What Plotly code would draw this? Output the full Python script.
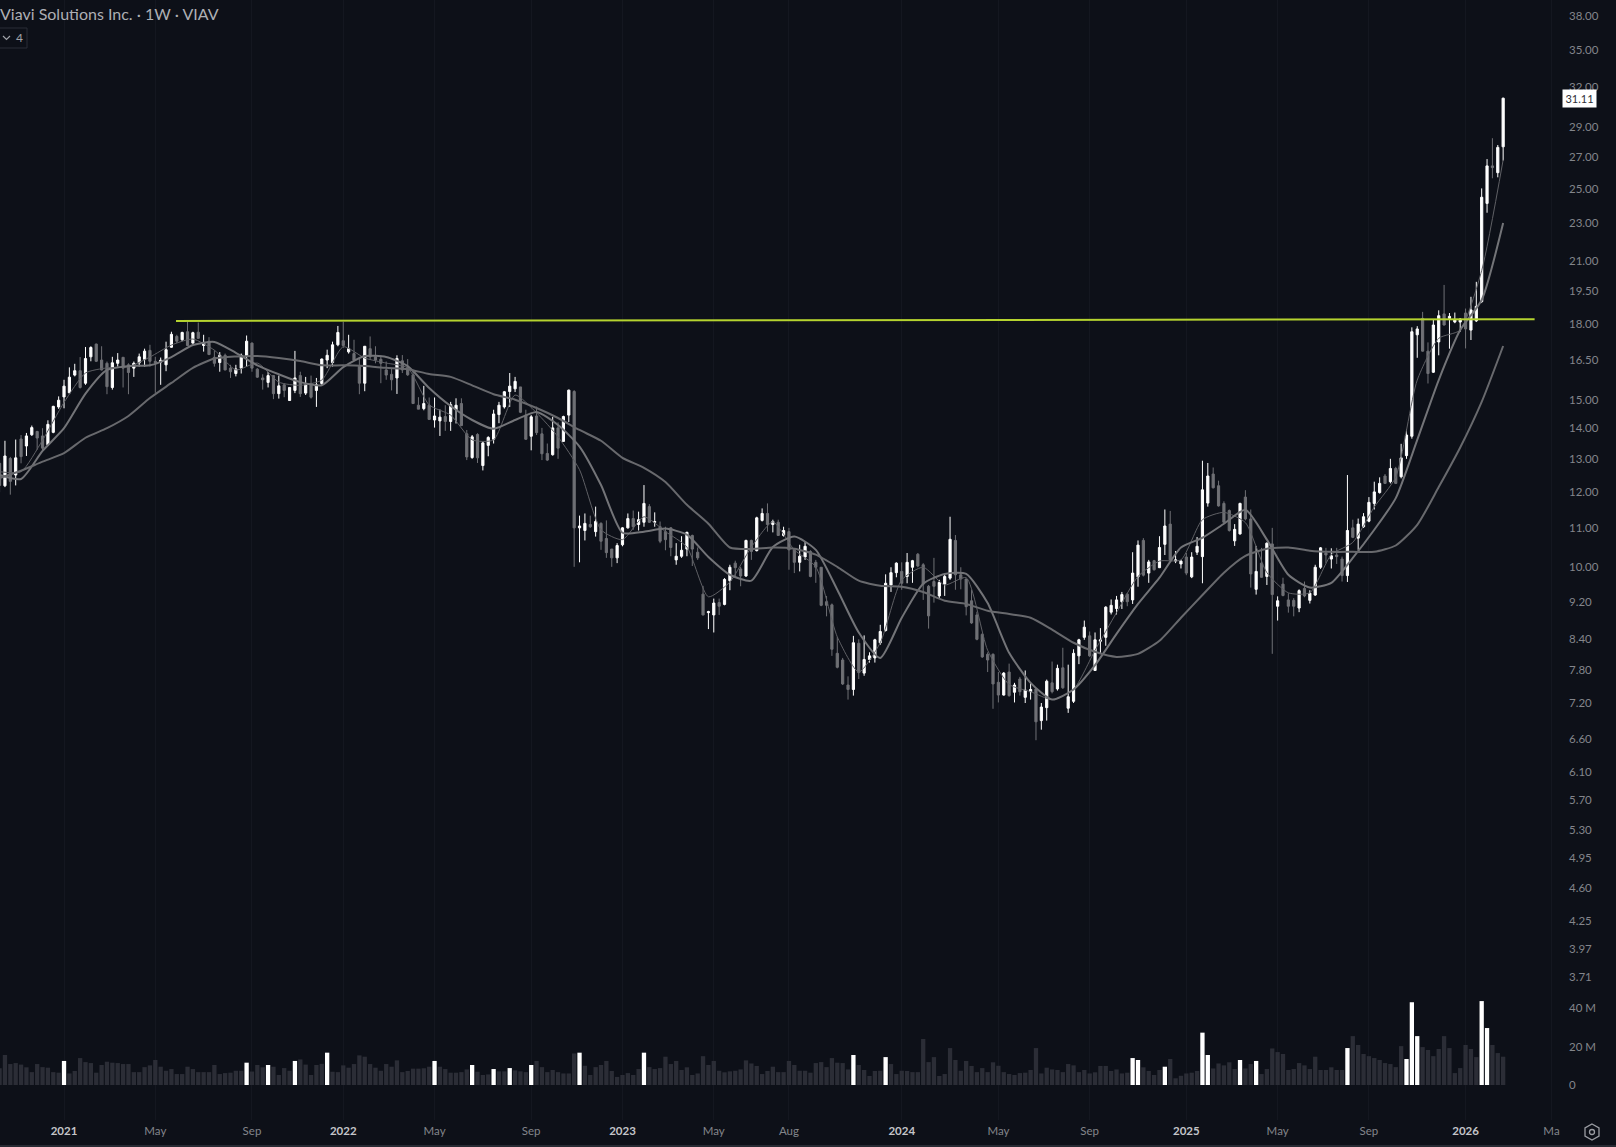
import math
import pandas as pd
import plotly.graph_objects as go

# weekly bars, VIAV
dates = pd.date_range("2020-10-12", periods=281, freq="7D")

opens = [
    12.86,12.18,13.01,12.5,13.64,13.41,13.78,13.89,13.74,13.45,
    13.86,14.74,15.1,15.25,15.92,16.09,15.61,16.64,17.16,16.51,
    16.38,15.45,16.38,16.62,16.32,16.19,16.4,16.54,16.9,16.46,
    16.43,16.32,17.03,17.48,17.34,17.68,17.2,17.66,17.1,17.28,
    16.62,16.41,16.7,16.19,15.98,16.19,16.66,17.2,16.15,15.81,
    15.64,15.9,15.22,15.55,14.97,15.34,15.9,15.24,15.6,15.34,
    15.6,16.51,16.41,17.13,17.3,16.84,16.77,16.25,15.61,16.97,
    16.64,16.54,16.12,15.95,15.81,16.48,16.22,15.93,14.8,14.68,
    14.8,14.28,14.25,14.4,14.23,14.64,14.86,13.81,13.04,13.79,
    12.79,13.43,13.63,14.47,14.74,15.3,15.4,15.47,14.45,13.73,
    14.42,13.81,13.17,13.13,14.01,13.56,14.45,15.3,11.0,10.93,
    11.09,10.9,11.12,10.72,10.45,10.23,10.56,11.0,11.25,11.09,
    11.15,11.58,11.15,11.03,10.9,11.0,10.18,10.27,10.45,10.8,
    10.37,9.37,8.96,8.91,9.18,9.14,9.68,10.1,9.96,9.79,
    10.67,10.41,11.2,11.39,11.09,11.15,10.8,10.9,10.43,10.12,
    10.25,10.39,10.12,10.0,9.2,9.13,8.12,7.99,7.52,7.44,
    8.32,7.74,8.0,8.03,8.33,8.58,9.58,9.87,9.9,9.78,
    10.0,10.32,10.06,9.55,9.66,9.33,9.6,9.74,10.67,9.82,
    9.72,9.22,8.91,8.5,8.1,8.1,7.57,7.34,7.76,7.39,
    7.63,7.3,7.4,7.45,6.9,7.12,7.56,7.45,7.84,7.11,
    7.23,8.07,8.44,8.47,7.79,8.36,8.44,8.97,9.05,9.2,
    9.37,9.24,9.77,10.67,9.86,10.16,9.99,10.57,11.1,10.15,
    10.08,10.25,9.77,10.37,10.26,11.68,12.53,12.18,11.67,11.47,
    10.66,10.84,11.85,11.24,9.48,10.1,9.78,10.58,9.1,9.6,
    9.24,9.23,9.06,9.5,9.23,9.35,10.0,10.35,10.2,10.3,
    10.2,9.8,11.0,10.73,11.03,11.18,11.67,11.98,12.47,12.3,
    12.7,12.45,13.1,13.73,17.55,18.26,16.87,16.03,17.25,18.46,
    18.26,18.1,18.1,18.5,17.75,18.15,19.02,24.12,26.41,25.98,
    27.66,
]
highs = [
    12.96,13.58,13.06,13.62,13.77,13.84,14.09,13.91,14.0,14.27,
    14.78,15.12,15.74,16.22,16.36,16.63,17.04,17.07,17.18,17.07,
    16.45,16.64,16.79,16.62,16.38,16.45,16.77,16.97,17.13,16.64,
    16.61,17.26,17.68,17.55,17.68,18.18,17.68,18.08,17.55,17.45,
    16.9,16.83,16.77,16.32,16.32,16.77,17.52,17.23,16.19,15.95,
    16.04,15.9,15.9,15.61,15.45,16.88,16.05,15.85,15.9,15.81,
    16.57,16.93,17.26,17.93,18.11,17.55,17.34,16.57,17.07,17.48,
    17.07,16.7,16.45,16.19,16.7,16.71,16.55,16.12,15.09,15.51,
    15.08,15.08,14.65,14.8,14.92,15.05,15.05,13.94,13.77,13.83,
    13.56,13.73,14.64,14.92,15.32,16.0,15.85,15.47,14.64,14.45,
    14.75,14.01,13.49,14.39,14.2,14.43,15.37,15.35,11.33,11.39,
    11.33,11.58,11.15,11.2,10.45,10.6,11.02,11.39,11.47,11.44,
    12.2,11.65,11.42,11.17,11.03,11.02,10.6,10.78,10.9,10.82,
    10.49,9.56,9.0,9.27,9.27,9.74,10.06,10.16,10.01,10.69,
    10.69,11.3,11.53,11.67,11.22,11.22,11.03,11.0,10.47,10.56,
    10.65,10.42,10.18,10.0,9.33,9.16,8.45,8.03,7.68,8.47,
    8.4,8.48,8.14,8.41,8.7,9.83,10.0,10.12,10.12,10.35,
    10.18,10.35,10.1,9.58,10.23,9.7,9.82,11.3,10.81,10.0,
    9.72,9.47,8.98,8.53,8.14,8.12,7.76,7.76,7.92,7.56,
    7.67,7.79,7.57,7.47,7.2,7.62,7.96,7.9,8.23,7.9,
    8.2,8.41,8.79,8.56,8.54,8.63,9.1,9.25,9.33,9.42,
    9.39,10.37,10.67,10.73,10.18,10.18,10.78,11.5,11.46,10.4,
    10.18,10.35,10.37,10.76,12.94,12.87,12.73,12.33,11.73,11.5,
    11.1,11.69,12.05,11.5,10.53,10.48,10.62,11.0,9.32,9.75,
    9.39,9.28,9.48,9.66,9.46,10.06,10.5,10.48,10.47,10.48,
    10.26,12.5,11.22,11.25,11.4,11.85,12.3,12.43,12.53,13.0,
    12.75,13.48,13.95,17.87,17.92,18.55,17.23,18.2,18.62,19.8,
    18.5,18.52,18.27,18.7,19.24,19.95,25.01,26.85,28.24,27.78,
    31.15,
]
lows = [
    11.99,12.14,11.92,12.19,12.86,13.09,13.74,13.29,13.23,13.43,
    13.83,14.67,14.69,15.25,15.87,15.41,15.55,16.46,16.43,16.1,
    15.2,15.37,16.25,15.45,15.2,15.85,16.25,16.25,16.25,15.25,
    15.55,16.07,17.01,17.2,17.28,17.08,17.18,17.38,16.85,16.71,
    16.25,16.05,16.1,15.81,15.87,15.98,16.25,16.05,15.81,15.37,
    15.45,15.02,15.04,15.09,14.97,15.24,15.1,15.17,15.04,14.74,
    15.51,16.19,16.25,17.07,17.0,16.77,16.46,15.2,15.31,16.51,
    16.38,15.61,15.74,15.34,15.21,16.0,15.89,14.86,14.66,14.62,
    14.28,14.02,13.74,13.91,13.91,14.16,14.07,12.96,13.0,12.87,
    12.64,13.08,13.49,14.17,14.68,14.74,15.28,14.52,13.61,13.27,
    13.77,12.96,12.93,13.1,13.0,13.56,14.21,10.01,10.12,10.67,
    11.0,10.77,10.43,10.23,10.01,10.1,10.52,10.98,10.95,10.93,
    11.03,11.13,11.03,10.6,10.42,10.27,10.06,10.23,10.27,10.03,
    10.18,8.9,8.61,8.54,8.91,9.12,9.46,9.77,9.55,9.77,
    10.18,10.39,11.17,10.9,10.88,10.79,10.77,9.94,9.86,9.9,
    10.18,9.76,9.63,9.1,8.88,8.07,7.83,7.52,7.26,7.33,
    7.63,7.69,7.94,7.94,8.29,8.56,9.42,9.76,9.47,9.62,
    9.63,10.0,9.24,8.62,9.18,9.28,9.33,9.7,9.47,9.48,
    8.9,8.72,8.38,8.03,7.76,7.1,7.21,7.33,7.31,7.21,
    7.33,7.2,7.26,6.58,6.75,6.9,7.37,7.42,7.45,7.03,
    7.2,7.91,8.39,8.05,7.78,8.12,8.27,8.92,8.92,9.04,
    9.1,9.15,9.54,9.78,9.63,9.92,9.98,10.3,10.16,10.1,
    9.97,9.81,9.74,10.3,9.62,11.58,12.1,11.58,11.13,10.9,
    10.53,10.82,11.2,9.52,9.36,9.75,9.58,8.11,8.79,9.32,
    8.96,8.88,8.97,9.3,9.16,9.33,9.96,10.1,9.97,10.08,
    9.66,9.65,10.73,10.43,11.0,11.15,11.5,11.95,12.24,12.25,
    12.23,12.4,13.0,13.65,16.6,16.85,15.6,16.0,16.7,17.95,
    16.97,18.05,17.68,16.98,17.33,18.1,18.95,23.58,25.63,25.69,
    26.75,
]
closes = [
    12.19,13.09,12.31,13.03,13.07,13.74,14.02,13.67,13.34,14.13,
    14.76,14.98,15.5,15.84,16.09,15.45,16.57,17.02,16.46,16.12,
    15.48,16.4,16.51,16.19,16.02,16.38,16.64,16.87,16.46,16.4,
    16.5,16.93,17.57,17.28,17.65,17.1,17.64,17.4,17.23,16.73,
    16.38,16.7,16.12,16.05,16.16,16.7,17.28,16.19,15.84,15.74,
    15.9,15.22,15.51,15.34,15.45,15.81,15.22,15.55,15.09,15.55,
    16.55,16.7,17.13,17.65,17.1,16.97,16.51,15.61,17.07,16.64,
    16.51,16.38,15.92,15.74,16.57,16.12,15.93,14.86,14.66,14.86,
    14.3,14.42,14.38,14.23,14.82,14.8,14.09,13.06,13.71,13.03,
    13.51,13.69,14.49,14.8,15.29,15.5,15.68,14.55,13.63,14.39,
    13.85,13.16,12.96,14.01,13.34,14.4,15.35,11.0,11.05,11.12,
    11.03,11.17,10.65,10.36,10.23,10.54,11.0,11.25,11.03,11.22,
    11.67,11.15,11.17,10.65,10.69,10.49,10.27,10.42,10.88,10.45,
    10.23,8.91,8.98,9.17,9.1,9.71,10.0,9.99,9.79,10.67,
    10.39,11.27,11.39,11.09,11.17,10.8,10.93,10.43,10.12,10.27,
    10.52,9.78,10.0,9.12,9.12,8.2,7.85,7.54,7.44,8.33,
    7.75,8.0,8.07,8.39,8.56,9.62,9.87,10.1,9.62,10.12,
    10.16,10.03,9.6,8.89,9.55,9.64,9.78,10.7,9.82,9.72,
    9.09,8.74,8.4,8.05,7.99,7.54,7.34,7.74,7.33,7.52,
    7.4,7.43,7.44,6.88,7.13,7.59,7.4,7.83,7.47,7.31,
    8.12,8.39,8.65,8.07,8.39,8.39,9.08,9.12,9.24,9.36,
    9.2,9.86,10.55,9.81,10.13,9.94,10.49,11.05,10.18,10.18,
    10.15,9.86,10.25,10.52,12.06,12.47,12.12,11.6,11.15,10.93,
    10.96,11.67,11.24,9.84,9.9,9.76,10.6,9.36,9.22,9.34,
    9.1,9.1,9.45,9.33,9.39,10.0,10.48,10.3,10.28,10.26,
    9.8,10.93,10.75,11.1,11.3,11.7,12.0,12.25,12.25,12.7,
    12.25,13.03,13.77,17.68,17.8,16.87,15.98,17.97,18.38,17.97,
    18.35,18.2,18.23,17.8,18.64,18.8,24.48,26.41,26.3,27.62,
    31.11,
]
# volume in millions of shares
volume = [
    8.7,15.6,10.9,11.4,10.6,9.2,6.7,10.9,9.3,9.0,6.7,6.4,
    12.5,6,7.3,14,11.9,11.4,6.4,10.4,12.1,11.6,
    11.4,10.9,10.9,6.7,6.7,9.3,10.2,13,9.5,7.4,
    8.3,5.7,5.7,9.5,8.3,6.7,6.7,6.7,10.4,5.7,
    6.2,6.4,7.4,7.4,11.6,7,10.4,9.2,10.4,9.5,
    5.2,8.8,7.4,12.5,13.3,10.6,5.2,10.4,11,16.8,
    6.9,6.7,10.2,9,10.9,15.4,14.7,10.9,9,7.4,
    10.9,9.5,12.8,6.7,7.3,8.5,8.5,8.7,9.5,12.5,
    9.5,8.3,6.4,6.4,6.7,8.1,10.4,6.9,5.2,5.5,
    8.3,7.1,7.1,8.8,7.6,7.1,6.7,10.4,12.5,9.3,
    6.7,7.8,6.7,6,6,16.4,16.8,10,5.2,9.3,
    10.4,12.5,7.3,4.2,5.2,6.2,5.2,8.3,16.8,9.3,
    8.3,8.8,14.7,10.9,12.5,7.8,9.2,5.2,6,15,
    10.4,12.5,7.4,6.6,7.1,7.4,8.1,12.8,11.2,9.9,
    5.7,7.3,9.5,6.7,6.7,12.5,10.4,7.4,7.4,6.4,
    11.4,11.9,9.3,14,11.6,11.4,8.1,15.6,10.4,7.8,
    4.7,7.3,7.4,14.5,10.9,5.7,7.4,7.3,6.7,6.7,
    23.9,11.9,14.5,4.7,5.7,19.2,13,7.4,12.5,9.9,
    6.7,8.8,6.7,11.8,10,6.7,5.7,5.2,6.2,6.4,
    7.8,19.2,6,9,8.1,7.8,6.7,10.9,10.2,6.7,
    7.8,6,6.6,9.9,9.9,7.3,8.1,6,6.4,14,
    13,9.2,7.3,5.2,7.8,9.5,13.5,3.5,4.8,6,
    6.4,7.3,27.2,15.6,8.6,11.2,10.2,11.8,8.3,13,
    8.6,10.9,12.5,5.7,8.3,19,17.1,16.1,7.8,8.3,
    11.4,10.2,8.3,14.7,7.8,7.8,9.2,7.8,7.8,19.2,
    25.4,20.8,16.1,15,14,13,11.4,10.9,9.3,20.2,
    13.5,43,25.4,19.7,18.2,15,18.7,25.4,19.2,6.2,
    8.8,20.8,18.7,14.5,43.6,29.6,20.8,16.6,14.7,
]
# bars whose volume column is highlighted white
white_bars = [12,46,50,55,61,81,88,92,95,99,108,120,159,165,211,212,217,224,225,231,234,251,262,263,264,276,277]

# moving averages, read every 4th bar
ma_fast = [
    12.6,12.6,13.6,14.9,16.0,16.2,16.24,16.63,17.12,17.37,16.91,16.12,16.39,15.65,15.53,15.73,
    17.05,16.59,16.39,16.2,14.81,14.45,13.61,13.61,15.17,14.53,13.71,12.66,10.95,10.69,11.3,10.9,
    10.5,9.31,9.65,10.5,11.16,10.43,10.01,8.45,7.76,8.33,9.7,10.0,9.58,9.75,8.18,7.53,
    7.4,7.26,7.44,8.18,8.96,9.78,10.15,10.18,11.22,11.42,11.14,9.87,9.4,9.4,10.31,10.62,
    11.57,12.44,15.73,17.4,17.75,20.5,26.8,
]
ma_mid = [
    12.5,12.38,13.25,14.0,15.22,16.12,16.27,16.3,16.63,17.12,17.25,16.8,16.3,15.95,15.65,15.53,
    16.23,16.67,16.63,16.27,15.43,14.77,14.28,13.98,14.28,14.56,14.11,13.39,12.2,10.87,10.9,10.98,
    10.82,10.25,9.82,9.68,10.5,10.77,10.43,9.47,8.54,8.03,8.85,9.61,9.84,9.84,9.17,8.13,
    7.56,7.26,7.44,7.89,8.51,9.15,9.75,10.49,10.74,11.11,11.49,10.69,9.82,9.52,9.63,10.23,
    10.95,11.82,13.61,15.73,17.75,19.09,23.0,
]
ma_slow = [
    12.41,12.63,12.91,13.18,13.68,14.0,14.42,15.06,15.62,16.2,16.57,16.65,16.67,16.59,16.47,16.3,
    16.3,16.27,16.2,16.15,15.96,15.85,15.53,15.2,15.0,14.7,14.35,13.94,13.58,13.03,12.72,12.29,
    11.63,11.11,10.49,10.45,10.49,10.46,10.31,10.01,9.68,9.56,9.54,9.42,9.22,9.15,9.0,8.93,
    8.85,8.6,8.33,8.15,8.05,8.11,8.37,8.85,9.35,9.87,10.28,10.46,10.49,10.41,10.38,10.38,
    10.38,10.54,11.08,12.14,13.36,14.92,17.08,
]

# breakout line drawn on the chart
level_x = ["2021-05-30", "2026-04-05"]
level_y = [18.15, 18.22]

last_price = 31.11

price_ticks = [38,35,32,29,27,25,23,21,19.5,18,16.5,15,14,13,12,11,10,9.2,8.4,7.8,7.2,6.6,6.1,5.7,5.3,4.95,4.6,4.25,3.97,3.71]
vol_ticks = [0, 20, 40]
vol_labels = ["0", "20 M", "40 M"]

time_ticks = ["2021-01-04","2021-05-03","2021-09-06","2022-01-03","2022-05-02","2022-09-05","2023-01-02","2023-05-01","2023-08-07",
              "2024-01-01","2024-05-06","2024-09-02","2025-01-06","2025-05-05","2025-09-01","2026-01-05","2026-04-27"]
time_labels = ["2021","May","Sep","2022","May","Sep","2023","May","Aug","2024","May","Sep","2025","May","Sep","2026","Ma"]

assert len(opens) == len(highs) == len(lows) == len(closes) == len(volume) == len(dates)

BG = "#0d1018"
UP = "#ffffff"
DOWN = "#6f7075"
VOL = "#2b2d36"
GRID = "#141720"
AXIS_TXT = "#83858b"

W, H = 1616, 1147
PLOT_W, PLOT_H = 1562, 1120


# page pixels to paper coords, only for the chart furniture
def px(x):
    return x / PLOT_W


def py(y):
    return (PLOT_H - y) / PLOT_H


tick_text = []
for t in time_labels:
    if t.isdigit():
        tick_text.append("<b><span style='color:#c4c5c9'>" + t + "</span></b>")
    else:
        tick_text.append(t)

vol_colors = [VOL] * len(volume)
for b in white_bars:
    vol_colors[b] = UP

fig = go.Figure()
fig.add_trace(go.Bar(x=dates, y=volume, marker=dict(color=vol_colors, line_width=0), yaxis="y2", hoverinfo="skip"))
fig.add_trace(go.Candlestick(x=dates, open=opens, high=highs, low=lows, close=closes, whiskerwidth=0,
                             increasing=dict(line=dict(color=UP, width=1), fillcolor=UP),
                             decreasing=dict(line=dict(color=DOWN, width=1), fillcolor=DOWN)))
fig.add_trace(go.Scatter(x=dates[::4], y=ma_fast, mode="lines", line=dict(color="#5f6065", width=1, shape="spline", smoothing=0.6)))
fig.add_trace(go.Scatter(x=dates[::4], y=ma_mid, mode="lines", line=dict(color="#737478", width=2, shape="spline", smoothing=0.6)))
fig.add_trace(go.Scatter(x=dates[::4], y=ma_slow, mode="lines", line=dict(color="#68696d", width=2, shape="spline", smoothing=0.6)))
fig.add_trace(go.Scatter(x=level_x, y=level_y, mode="lines", line=dict(color="#b5d32f", width=2)))

top = 1.5961
fig.update_layout(
    width=W, height=H, autosize=False,
    paper_bgcolor=BG, plot_bgcolor=BG,
    margin=dict(l=0, r=W - PLOT_W, t=0, b=H - PLOT_H),
    showlegend=False, boxgap=0.42, bargap=0.2, hovermode=False,
    font=dict(family="Lato", color=AXIS_TXT, size=11.5),
    xaxis=dict(type="date", range=["2020-10-12 13:00", "2026-05-10 17:00"], rangeslider_visible=False,
               tickmode="array", tickvals=time_ticks, ticktext=tick_text, ticks="", tickangle=0,
               ticklabelstandoff=2,
               showgrid=True, gridcolor=GRID, gridwidth=1, zeroline=False, showline=False,
               tickfont=dict(size=11.5, color=AXIS_TXT)),
    yaxis=dict(type="log", range=[top - PLOT_H / 951.6, top], side="right", tickmode="array",
               tickvals=price_ticks, ticktext=["%.2f" % v for v in price_ticks], ticks="",
               ticklabelstandoff=6, showgrid=False, zeroline=False, showline=False),
    yaxis2=dict(overlaying="y", side="right", anchor="x", range=[-18.18, 563.7], tickmode="array",
                tickvals=vol_ticks, ticktext=vol_labels, ticks="", ticklabelstandoff=6,
                showgrid=False, zeroline=False, showline=False),
    annotations=[
        dict(text="Viavi Solutions Inc. · 1W · VIAV", xref="paper", yref="paper", x=px(-2), y=py(14),
             xanchor="left", yanchor="middle", showarrow=False, font=dict(size=16, color="#adafb4")),
        dict(text="4", xref="paper", yref="paper", x=px(19), y=py(38), xanchor="center", yanchor="middle",
             showarrow=False, font=dict(size=12, color="#a0a2a8")),
        dict(text="%.2f" % last_price, xref="paper", yref="y", x=px(1562), y=math.log10(last_price), xanchor="left",
             yanchor="middle", showarrow=False, bgcolor="#ffffff", borderpad=2, width=29, height=13,
             font=dict(size=11, color="#2e3036")),
    ],
    shapes=[
        # indicator badge
        dict(type="rect", xref="paper", yref="paper", x0=px(-3), x1=px(27), y0=py(28), y1=py(48),
             line=dict(color="#2a2d36", width=1)),
        dict(type="path", xref="paper", yref="paper", line=dict(color="#a0a2a8", width=1.2),
             path="M %f %f L %f %f L %f %f" % (px(3), py(36), px(6.5), py(39.5), px(10), py(36))),
        # settings hexagon, bottom right
        dict(type="path", xref="paper", yref="paper", line=dict(color="#9a9ca2", width=1.3),
             path="M %f %f L %f %f L %f %f L %f %f L %f %f L %f %f Z" % (
                 px(1592), py(1124), px(1599), py(1128), px(1599), py(1136),
                 px(1592), py(1140), px(1585), py(1136), px(1585), py(1128))),
        dict(type="circle", xref="paper", yref="paper", x0=px(1589.5), x1=px(1594.5), y0=py(1129.5), y1=py(1134.5),
             line=dict(color="#9a9ca2", width=1.3)),
        # strip along the bottom edge
        dict(type="rect", xref="paper", yref="paper", x0=0, x1=px(W), y0=py(1145), y1=py(1147),
             fillcolor="#272a33", line_width=0),
    ],
)

# the page's default body margin would shift everything by 8px
fig.write_html("out.html", config={"displayModeBar": False},
               post_script="document.body.style.margin='0';document.body.style.background='#0d1018';")
